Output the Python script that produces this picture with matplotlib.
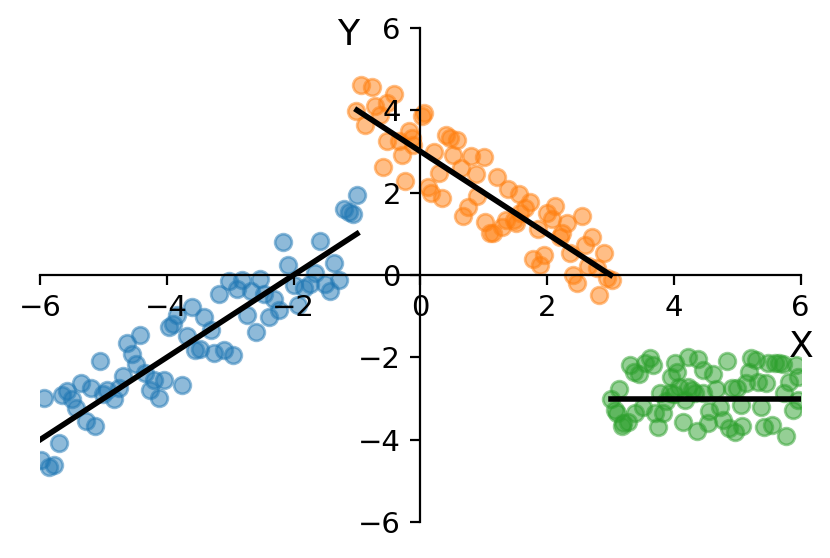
import matplotlib
matplotlib.use("Agg")
import matplotlib.pyplot as plt
import numpy as np

# ---- data ----
blue_x = [-1.00, -1.21, -1.13, -1.07, -2.16, -1.58, -2.09, -1.37, -1.66, -1.29,
          -1.50, -1.43, -1.74, -1.84, -2.00, -1.93, -2.53, -2.47, -2.31, -2.23,
          -2.38, -2.59, -2.73, -2.67, -2.81, -2.89, -3.02, -3.17, -3.31, -3.41,
          -3.60, -3.68, -3.55, -3.47, -3.26, -3.10, -2.95, -3.84, -3.90, -3.97,
          -3.76, -4.05, -4.13, -4.20, -4.27, -4.34, -4.48, -4.55, -4.63, -4.42,
          -4.69, -4.76, -4.84, -4.94, -5.00, -5.06, -5.19, -5.35, -5.13, -5.27,
          -5.43, -5.49, -5.57, -5.65, -5.70, -5.93, -5.99, -5.86, -5.78]
blue_y = [1.95, 1.61, 1.52, 1.47, 0.80, 0.82, 0.24, 0.30, 0.05, -0.11,
          -0.23, -0.38, -0.21, -0.31, -0.25, -0.72, -0.09, -0.47, -0.58, -0.84,
          -1.02, -1.38, -0.97, -0.39, -0.13, -0.35, -0.15, -0.45, -1.34, -1.02,
          -0.77, -1.48, -1.81, -1.79, -1.90, -1.82, -1.95, -0.96, -1.20, -1.26,
          -2.68, -2.54, -2.98, -2.54, -2.80, -2.37, -2.17, -1.91, -1.65, -1.46,
          -2.46, -2.74, -3.02, -2.78, -2.90, -2.09, -2.74, -2.63, -3.67, -3.55,
          -3.22, -3.02, -2.82, -2.92, -4.07, -2.98, -4.48, -4.66, -4.62]

orange_x = [-0.93, -0.76, -0.42, -0.71, -1.02, -0.88, -0.64, -0.52, 0.05, 0.03,
            -0.18, -0.13, -0.11, -0.52, -0.33, -0.29, -0.59, -0.24, 0.22, 0.41,
            0.47, 0.58, 0.52, 0.29, 0.64, 0.80, 1.00, 0.87, 0.12, 0.17,
            0.34, 0.89, 0.75, 0.68, 1.21, 1.38, 1.56, 1.73, 1.65, 1.57,
            1.02, 1.10, 1.15, 1.29, 1.35, 1.47, 1.51, 1.86, 2.13, 2.00,
            2.07, 2.31, 2.55, 2.23, 2.20, 2.70, 2.60, 2.36, 2.89, 1.78,
            1.95, 1.89, 2.65, 2.78, 2.94, 3.02, 2.41, 2.47, 2.82]
orange_y = [4.61, 4.56, 4.39, 4.10, 3.99, 3.64, 3.88, 4.17, 3.92, 3.86,
            3.50, 3.32, 3.16, 3.26, 3.24, 2.91, 2.61, 2.27, 2.99, 3.40,
            3.32, 3.28, 2.91, 2.47, 2.59, 2.90, 2.86, 2.45, 2.14, 2.00,
            1.86, 1.92, 1.66, 1.43, 2.39, 2.08, 1.97, 1.78, 1.62, 1.50,
            1.29, 1.01, 1.01, 1.17, 1.33, 1.33, 1.25, 1.11, 1.67, 1.51,
            1.35, 1.25, 1.42, 1.01, 0.93, 0.93, 0.73, 0.53, 0.53, 0.40,
            0.49, 0.24, 0.22, 0.16, -0.08, -0.11, 0.00, -0.20, -0.49]

green_x = [3.62, 3.31, 3.54, 3.67, 3.37, 3.45, 3.14, 3.00, 3.07, 3.10,
           3.20, 3.28, 3.18, 3.38, 3.52, 3.70, 3.83, 3.75, 3.78, 3.94,
           3.87, 3.96, 4.01, 4.05, 4.08, 4.22, 4.38, 4.46, 4.62, 4.22,
           4.28, 4.33, 4.46, 4.17, 4.14, 4.36, 4.53, 4.56, 4.66, 4.72,
           4.78, 4.83, 4.87, 4.96, 5.08, 4.91, 4.99, 5.06, 5.14, 5.18,
           5.22, 5.29, 5.33, 5.38, 5.46, 5.49, 5.59, 5.66, 5.72, 5.42,
           5.55, 5.73, 5.82, 5.77, 5.88, 5.92, 5.96, 5.96, 4.00]
green_y = [-2.02, -2.19, -2.14, -2.18, -2.35, -2.40, -2.77, -3.02, -3.28, -3.34,
           -3.59, -3.56, -3.67, -3.36, -3.20, -3.36, -3.36, -3.70, -2.86, -2.87,
           -3.07, -2.48, -2.14, -2.35, -2.71, -1.99, -2.04, -2.31, -2.40, -2.71,
           -2.79, -2.87, -2.86, -3.03, -3.58, -3.78, -3.60, -3.29, -2.77, -3.20,
           -3.52, -2.08, -3.72, -3.80, -3.67, -2.75, -2.75, -3.15, -2.63, -2.35,
           -2.02, -2.06, -2.59, -3.20, -2.63, -2.14, -2.13, -2.14, -2.16, -3.68,
           -3.64, -2.86, -2.59, -3.91, -3.28, -2.18, -2.48, -3.04, -2.88]

# fitted lines: (slope, intercept, x_start, x_end)
line_slopes = [1.0, -1.0, 0.0]
line_intercepts = [2.0, 3.0, -3.0]
line_starts = [-6.0, -1.0, 3.0]
line_ends = [-1.0, 3.0, 6.0]

ticks = [-6, -4, -2, 0, 2, 4, 6]

fig = plt.figure(figsize=(4.15, 2.79), dpi=200)
ax = fig.add_axes([0.0482, 0.0642, 0.9165, 0.886])

for xs, ys, c in [(blue_x, blue_y, "C0"), (orange_x, orange_y, "C1"), (green_x, green_y, "C2")]:
    ax.scatter(xs, ys, color=c, alpha=0.5)

for m, b, x0, x1 in zip(line_slopes, line_intercepts, line_starts, line_ends):
    xx = np.array([x0, x1])
    ax.plot(xx, m * xx + b, color="black", linewidth=2)

ax.set_xlim(-6, 6)
ax.set_ylim(-6, 6)
ax.set_xticks(ticks)
ax.set_yticks(ticks)
ax.tick_params(labelsize=10.5)
ax.spines["left"].set_position(("data", 0))
ax.spines["bottom"].set_position(("data", 0))
ax.spines["right"].set_visible(False)
ax.spines["top"].set_visible(False)

ax.text(0.405, 0.985, "Y", transform=ax.transAxes, ha="center", va="center", fontsize=13)
ax.text(1.001, 0.354, "X", transform=ax.transAxes, ha="center", va="center", fontsize=13)

fig.savefig("out.png", dpi=200)
